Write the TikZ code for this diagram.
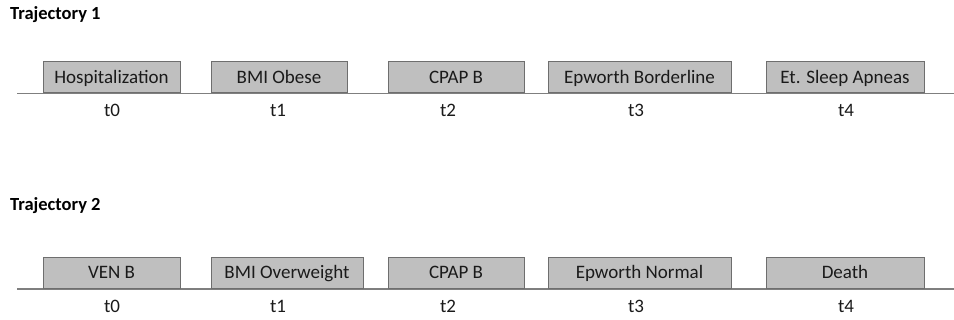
\documentclass[tikz,border=0pt]{standalone}
\usepackage{fontspec}
\setmainfont{Carlito}
\definecolor{boxfill}{HTML}{BFBFBF}
\definecolor{boxline}{HTML}{6E6E6E}
\definecolor{axisline}{HTML}{7F7F7F}
\definecolor{txt}{HTML}{1A1A1A}
\tikzset{
  evbox/.style={draw=boxline, fill=boxfill, line width=1pt, minimum height=31pt, inner sep=0pt,
    text height=14pt, text depth=2pt,
    font=\fontsize{19}{21}\selectfont, text=txt, anchor=center},
  tlabel/.style={font=\fontsize{19}{21}\selectfont, text=txt, inner sep=0pt,
    text height=14pt, text depth=2pt, anchor=center},
  ttitle/.style={font=\bfseries\fontsize{18.5}{20}\selectfont, text=black, inner sep=0pt, anchor=base west},
  axis/.style={draw=axisline, line width=1.4pt}
}
\begin{document}
\begin{tikzpicture}[x=1pt,y=-1pt]
\useasboundingbox (0,0) rectangle (954,320);
% Trajectory 1
\node[ttitle] (title1) at (10,20) {Trajectory 1};
\coordinate (l1s) at (17,93.5);
\coordinate (l1e) at (954,93.5);
\draw[axis] (l1s) -- (l1e);
\node[evbox, minimum width=137pt] (a0) at (111.5,77.5) {Hospitalization};
\node[evbox, minimum width=136pt] (a1) at (279,77.5) {BMI Obese};
\node[evbox, minimum width=136pt] (a2) at (456,77.5) {CPAP B};
\node[evbox, minimum width=183pt] (a3) at (639.5,77.5) {Epworth Borderline};
\node[evbox, minimum width=158pt] (a4) at (845,77.5) {Et. Sleep Apneas};
\node[tlabel] (at0) at (112,110.5) {t0};
\node[tlabel] (at1) at (278,110.5) {t1};
\node[tlabel] (at2) at (448,110.5) {t2};
\node[tlabel] (at3) at (636,110.5) {t3};
\node[tlabel] (at4) at (846,110.5) {t4};
% Trajectory 2
\node[ttitle] (title2) at (10,210.5) {Trajectory 2};
\coordinate (l2s) at (17,289);
\coordinate (l2e) at (954,289);
\draw[axis] (l2s) -- (l2e);
\node[evbox, minimum width=137pt] (b0) at (111.5,273) {VEN B};
\node[evbox, minimum width=152pt] (b1) at (287,273) {BMI Overweight};
\node[evbox, minimum width=136pt] (b2) at (456,273) {CPAP B};
\node[evbox, minimum width=183pt] (b3) at (639.5,273) {Epworth Normal};
\node[evbox, minimum width=158pt] (b4) at (845,273) {Death};
\node[tlabel] (bt0) at (112,306.5) {t0};
\node[tlabel] (bt1) at (278,306.5) {t1};
\node[tlabel] (bt2) at (448,306.5) {t2};
\node[tlabel] (bt3) at (636,306.5) {t3};
\node[tlabel] (bt4) at (846,306.5) {t4};
\end{tikzpicture}
\end{document}
